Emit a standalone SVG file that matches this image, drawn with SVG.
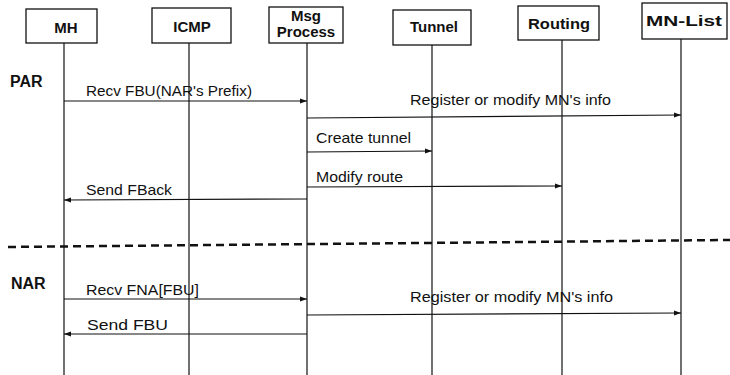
<svg xmlns="http://www.w3.org/2000/svg" width="730" height="375" viewBox="0 0 730 375">
<style>
.box{fill:#fff;stroke:#111;stroke-width:1.3}
.life{stroke:#111;stroke-width:1.2;fill:none}
.nl{font-family:"Liberation Sans",Arial,sans-serif;font-weight:bold;font-size:15px;fill:#111;text-anchor:middle}
.ml{font-family:"Liberation Sans",Arial,sans-serif;font-size:15px;fill:#111}
.sec{font-family:"Liberation Sans",Arial,sans-serif;font-weight:bold;font-size:16px;fill:#111}
.msg{stroke:#111;stroke-width:1.2;fill:none;marker-end:url(#ah)}
</style>
<defs>
<marker id="ah" markerWidth="8" markerHeight="6" refX="7" refY="3" orient="auto" markerUnits="userSpaceOnUse">
<path d="M0,0.5 L7,3 L0,5.5 Z" fill="#111"/>
</marker>
</defs>
<g id="lifelines">
<line class="life" x1="64" y1="43" x2="64" y2="375"/>
<line class="life" x1="189" y1="43" x2="189" y2="375"/>
<line class="life" x1="307" y1="43" x2="307" y2="375"/>
<line class="life" x1="432" y1="45" x2="432" y2="375"/>
<line class="life" x1="562" y1="40" x2="562" y2="375"/>
<line class="life" x1="681" y1="39" x2="681" y2="375"/>
</g>
<g id="MH"><rect class="box" x="26" y="9" width="71" height="34"/><text class="nl" x="66" y="33">MH</text></g>
<g id="ICMP"><rect class="box" x="152" y="8" width="79" height="35"/><text class="nl" x="192" y="32">ICMP</text></g>
<g id="MsgProcess"><rect class="box" x="269" y="7" width="74" height="36"/><text class="nl" x="306" y="21" font-size="14">Msg</text><text class="nl" x="306" y="37" font-size="14">Process</text></g>
<g id="Tunnel"><rect class="box" x="393" y="10" width="78" height="35"/><text class="nl" x="434" y="32">Tunnel</text></g>
<g id="Routing"><rect class="box" x="518" y="6" width="81" height="34"/><text class="nl" x="559" y="29" textLength="62" lengthAdjust="spacingAndGlyphs">Routing</text></g>
<g id="MNList"><rect class="box" x="642" y="3" width="85" height="36"/><text class="nl" x="684" y="26" textLength="76" lengthAdjust="spacingAndGlyphs">MN-List</text></g>
<text class="sec" x="10" y="87">PAR</text>
<text class="sec" x="11" y="289">NAR</text>
<line x1="8" y1="247" x2="730" y2="240" stroke="#111" stroke-width="2.5" stroke-dasharray="8 5"/>
<g id="connectors">
<line class="msg" x1="64" y1="101" x2="307" y2="101"/>
<text class="ml" x="86" y="96" textLength="166" lengthAdjust="spacingAndGlyphs">Recv FBU(NAR's Prefix)</text>
<line class="msg" x1="307" y1="118" x2="681" y2="115"/>
<text class="ml" x="410" y="105" textLength="201" lengthAdjust="spacingAndGlyphs">Register or modify MN's info</text>
<line class="msg" x1="307" y1="152" x2="432" y2="151"/>
<text class="ml" x="316" y="143" textLength="95" lengthAdjust="spacingAndGlyphs">Create tunnel</text>
<line class="msg" x1="307" y1="187" x2="562" y2="186"/>
<text class="ml" x="316" y="182" textLength="87" lengthAdjust="spacingAndGlyphs">Modify route</text>
<line class="msg" x1="307" y1="199" x2="64" y2="200"/>
<text class="ml" x="86" y="195" textLength="86" lengthAdjust="spacingAndGlyphs">Send FBack</text>
<line class="msg" x1="64" y1="299" x2="307" y2="299"/>
<text class="ml" x="86" y="295" textLength="113" lengthAdjust="spacingAndGlyphs">Recv FNA[FBU]</text>
<line class="msg" x1="307" y1="315" x2="681" y2="313"/>
<text class="ml" x="410" y="302" textLength="203" lengthAdjust="spacingAndGlyphs">Register or modify MN's info</text>
<line class="msg" x1="307" y1="334" x2="64" y2="334"/>
<text class="ml" x="87" y="330" textLength="81" lengthAdjust="spacingAndGlyphs">Send  FBU</text>
</g>
</svg>
